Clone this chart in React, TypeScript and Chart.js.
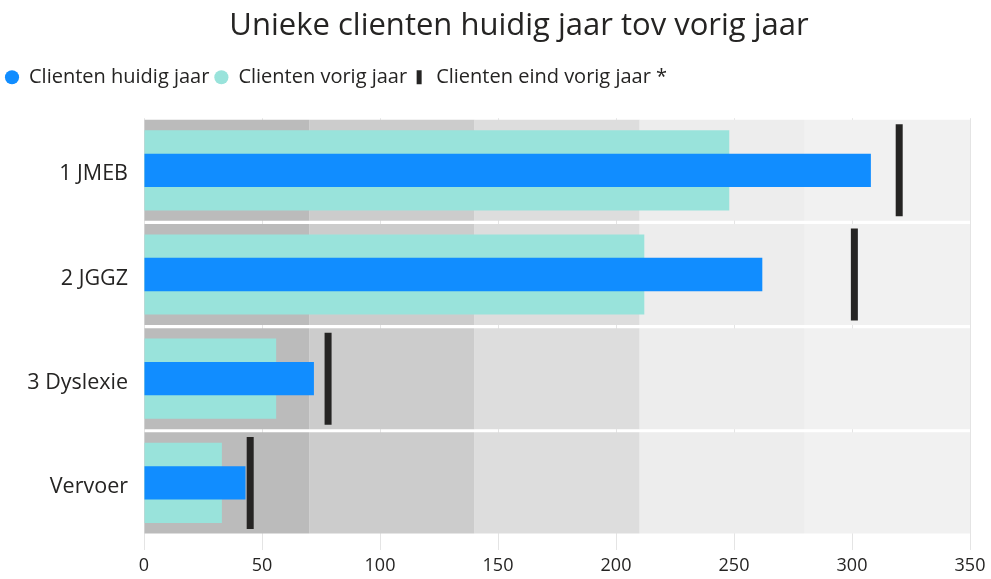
import React, { useEffect, useRef } from "react";
import { Chart, registerables } from "chart.js";

Chart.register(...registerables);

const TITLE = "Unieke clienten huidig jaar tov vorig jaar";
const categories = ["1 JMEB", "2 JGGZ", "3 Dyslexie", "Vervoer"];
const currentYear = [308, 262, 72, 43];
const previousYear = [248, 212, 56, 33];
const endPreviousYear = [320, 301, 78, 45];
const seriesNames = ["Clienten huidig jaar", "Clienten vorig jaar", "Clienten eind vorig jaar *"];
const bandEdges = [0, 70, 140, 210, 280, 350];
const bandColors = ["#bbbbbb", "#cccccc", "#dddddd", "#ededed", "#f1f1f1"];
const xTicks = [0, 50, 100, 150, 200, 250, 300, 350];

const FONT = "'Open Sans', 'Noto Sans', sans-serif";
const TEXT = "#252423";

const titleShift = {
  id: "titleShift",
  afterLayout(chart: any) {
    if (chart.titleBlock) chart.titleBlock.left = 68;
  },
};

export default function App() {
  const ref = useRef<HTMLCanvasElement | null>(null);

  useEffect(() => {
    if (!ref.current) return;
    const bandSets = bandColors.map((c, i) => ({
      type: "bar" as const,
      label: "band" + i,
      data: categories.map(() => [bandEdges[i], bandEdges[i + 1]]),
      backgroundColor: c,
      barPercentage: 0.97,
      categoryPercentage: 1,
      order: 10,
      xAxisID: "x",
      yAxisID: "y",
    }));
    const chart = new Chart(ref.current, {
      type: "bar",
      data: {
        labels: categories,
        datasets: [
          {
            type: "bar",
            label: seriesNames[0],
            data: currentYear,
            backgroundColor: "#118DFF",
            barPercentage: 0.32,
            categoryPercentage: 1,
            pointStyle: "circle",
            order: 1,
            xAxisID: "x",
            yAxisID: "y",
          } as any,
          {
            type: "bar",
            label: seriesNames[1],
            data: previousYear,
            backgroundColor: "#99E3DB",
            barPercentage: 0.77,
            categoryPercentage: 1,
            pointStyle: "circle",
            order: 2,
            xAxisID: "x",
            yAxisID: "y",
          } as any,
          {
            type: "line",
            label: seriesNames[2],
            data: endPreviousYear,
            showLine: false,
            borderColor: "#252423",
            backgroundColor: "#252423",
            pointStyle: "line",
            pointRotation: 90,
            pointRadius: 46,
            pointBorderWidth: 7,
            pointBorderColor: "#252423",
            order: 0,
            xAxisID: "x",
            yAxisID: "y",
          } as any,
          ...(bandSets as any[]),
        ],
      },
      options: {
        indexAxis: "y",
        animation: false,
        responsive: true,
        maintainAspectRatio: false,
        events: [],
        datasets: { bar: { grouped: false } as any },
        layout: { autoPadding: false, padding: { left: 0, right: 21, top: 0, bottom: 0 } },
        plugins: {
          title: {
            display: true,
            text: TITLE,
            color: TEXT,
            font: { family: FONT, size: 31, weight: "normal" },
            padding: { top: 8, bottom: 17 },
          },
          legend: {
            display: true,
            position: "top",
            align: "start",
            labels: {
              usePointStyle: true,
              boxWidth: 14,
              boxHeight: 10,
              padding: 5,
              color: TEXT,
              font: { family: FONT, size: 20 },
              generateLabels: (chart: any) => {
                const items = Chart.defaults.plugins.legend.labels.generateLabels(chart);
                return items
                  .filter((it: any) => it.datasetIndex < 3)
                  .sort((a: any, b: any) => a.datasetIndex - b.datasetIndex)
                  .map((it: any) =>
                    it.datasetIndex === 2
                      ? { ...it, pointStyle: "line", rotation: 90, lineWidth: 5, strokeStyle: "#252423" }
                      : { ...it, pointStyle: "circle", lineWidth: 0 }
                  );
              },
            },
          },
          tooltip: { enabled: false },
        },
        scales: {
          x: {
            type: "linear",
            position: "bottom",
            min: 0,
            max: 350,
            afterBuildTicks: (s: any) => {
              s.ticks = xTicks.map((v) => ({ value: v }));
            },
            afterFit: (s: any) => {
              s.height = 44;
              s.paddingLeft = 0;
              s.paddingRight = 0;
            },
            grid: { color: "#e4e4e4", lineWidth: 1, tickLength: 15, drawTicks: true },
            border: { display: false },
            ticks: { color: TEXT, font: { family: FONT, size: 18 }, padding: 5 },
          },
          y: {
            type: "category",
            grid: { display: false, drawTicks: false },
            border: { display: false },
            afterFit: (s: any) => {
              s.width = 144;
              s.paddingTop = 0;
              s.paddingBottom = 0;
            },
            ticks: { color: TEXT, font: { family: FONT, size: 21.5 }, padding: 16, labelOffset: 4 },
          },
          x2: {
            type: "linear",
            axis: "x",
            position: "top",
            display: true,
            grid: { display: false, drawTicks: false },
            border: { display: false },
            ticks: { display: false },
            afterFit: (s: any) => {
              s.height = 21;
              s.paddingLeft = 0;
              s.paddingRight = 0;
            },
          } as any,
        },
      },
      plugins: [titleShift],
    } as any);
    return () => chart.destroy();
  }, []);

  return (
    <div style={{ position: "fixed", left: 0, top: 0, width: 991, height: 579, background: "#ffffff" }}>
      <canvas ref={ref} />
    </div>
  );
}
